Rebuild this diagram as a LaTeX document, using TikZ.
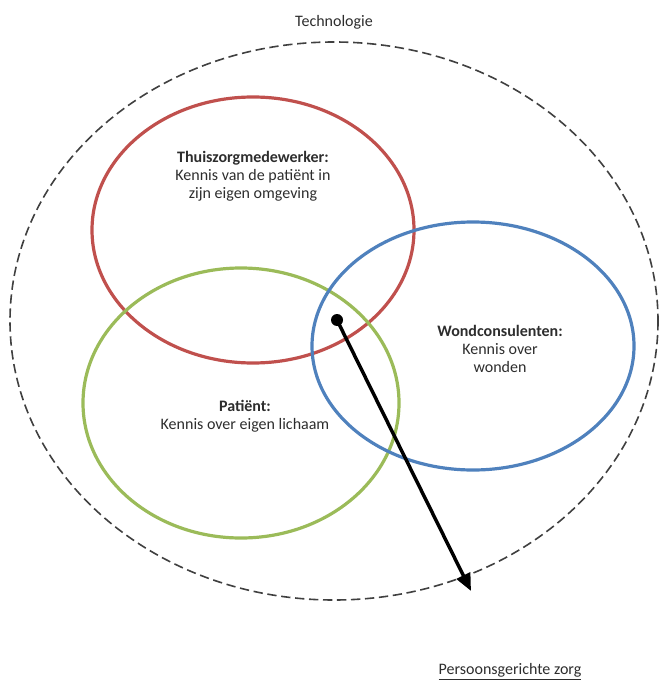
\documentclass[tikz,border=0pt]{standalone}
\usepackage{fontspec}
\setmainfont{Carlito}
\usetikzlibrary{arrows.meta}

\definecolor{zorgred}{RGB}{192,80,77}
\definecolor{zorggreen}{RGB}{155,187,89}
\definecolor{zorgblue}{RGB}{79,129,189}
\definecolor{zorgtext}{RGB}{45,45,45}

\begin{document}
\begin{tikzpicture}[
            x = 0.75pt, y = -0.75pt, % pixel grid
            > = {Triangle[length=13pt, width=11pt]}, % arrow head style
            ring/.style = {line width = 2.4pt},
            label/.style = {align = center, text = zorgtext, font = \fontsize{12}{13.5}\selectfont}
        ]

        \useasboundingbox (0,0) rectangle (665,684);

        % outer boundary
        \draw[line width = 1.2pt, dash pattern = on 7pt off 3.5pt, black!75] (334,321) ellipse (324 and 279);
        \node[label] (tech) at (334,22) {Technologie};

        % the three circles
        \draw[ring, zorgred]   (253,230) ellipse (161 and 133);
        \draw[ring, zorggreen] (241,403) ellipse (158 and 135);
        \draw[ring, zorgblue]  (473,346) ellipse (161 and 124);

        \node[label] (thuis) at (253,176) {\textbf{Thuiszorgmedewerker:}\\Kennis van de patiënt in\\zijn eigen omgeving};
        \node[label] (wond) at (500,349) {\textbf{Wondconsulenten:}\\Kennis over\\wonden};
        \node[label] (patient) at (245,416) {\textbf{Patiënt:}\\Kennis over eigen lichaam};

        % pointer to the overlap
        \node[circle, fill = black, inner sep = 0pt, minimum size = 9pt] (dot) at (337,320) {};
        \node[label] (zorg) at (510,672) {\underline{Persoonsgerichte zorg}};
        \coordinate (tip) at (471,591);
        \draw[->, line width = 2.6pt] (dot.center) -- (tip);
    \end{tikzpicture}
\end{document}
